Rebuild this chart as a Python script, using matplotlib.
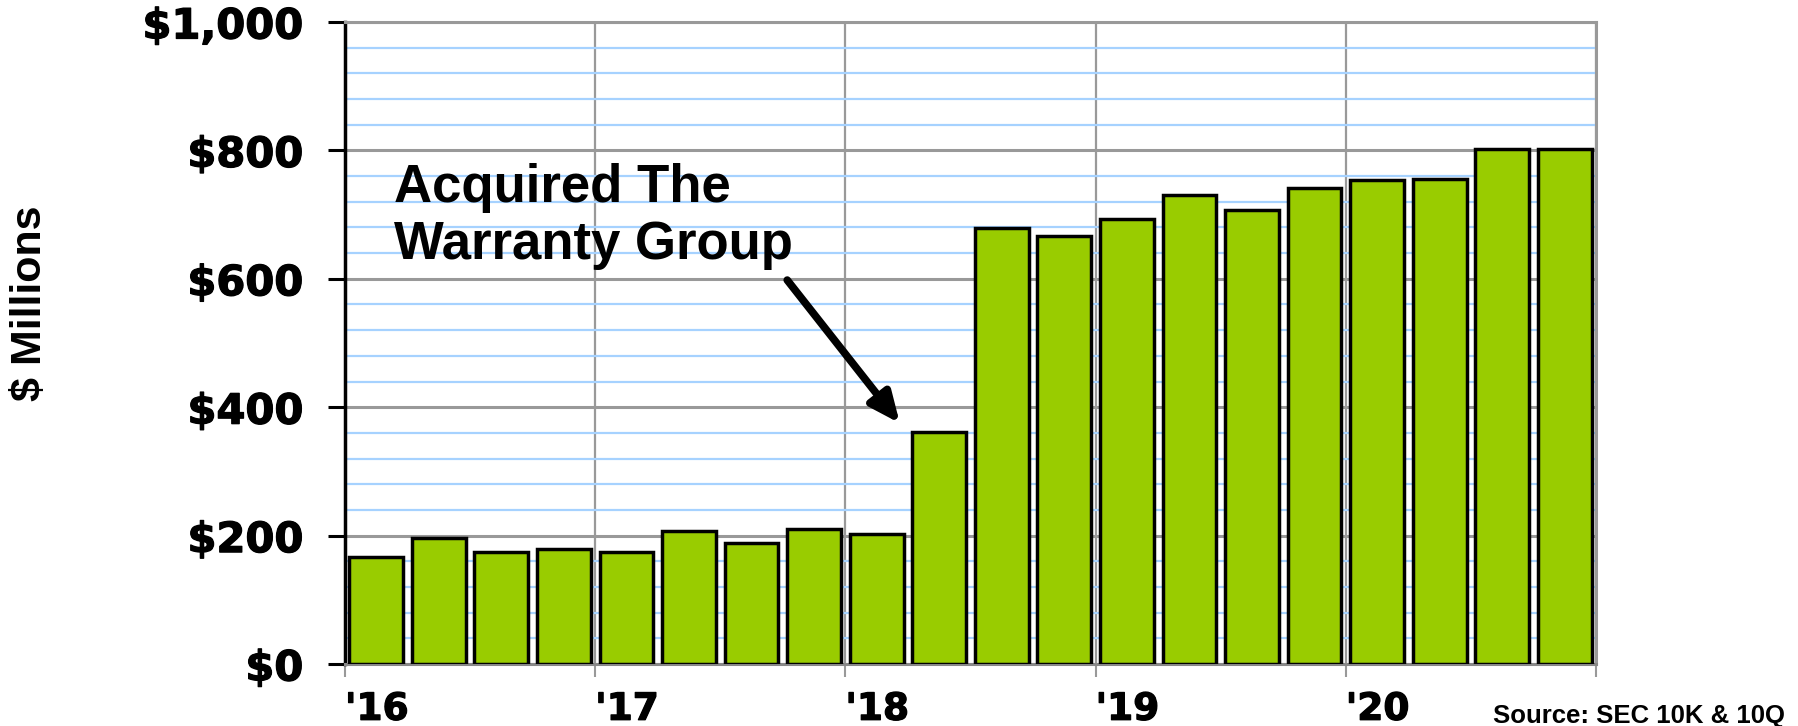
import matplotlib.pyplot as plt
import matplotlib.patheffects as pe
from matplotlib.ticker import MultipleLocator, FuncFormatter

# quarterly values, Q1 '16 .. Q4 '20 ($ millions)
quarters = ["1Q16", "2Q16", "3Q16", "4Q16", "1Q17", "2Q17", "3Q17", "4Q17",
            "1Q18", "2Q18", "3Q18", "4Q18", "1Q19", "2Q19", "3Q19", "4Q19",
            "1Q20", "2Q20", "3Q20", "4Q20"]
values = [166, 196, 175, 179, 175, 207, 188, 211,
          202, 362, 679, 666, 693, 730, 707, 741,
          754, 755, 802, 802]
year_labels = ["'16", "'17", "'18", "'19", "'20", ""]

plt.rcParams['font.family'] = ['Liberation Sans', 'DejaVu Sans']
plt.rcParams['font.weight'] = 'bold'

fig = plt.figure(figsize=(17.99, 7.26), dpi=100)
ax = fig.add_axes([345 / 1799, 62 / 726, 1251 / 1799, 642 / 726])

x = list(range(len(values)))
ax.bar(x, values, width=0.86, color='#99CC00', edgecolor='black',
       linewidth=2.5, zorder=3)

ax.set_xlim(-0.5, len(values) - 0.5)
ax.set_ylim(0, 1000)

# grid
ax.yaxis.set_major_locator(MultipleLocator(200))
ax.yaxis.set_minor_locator(MultipleLocator(40))
ax.grid(axis='y', which='minor', color='#A6D2FF', linewidth=1.6, zorder=0)
ax.grid(axis='y', which='major', color='#999999', linewidth=2.2, zorder=1)
year_pos = [i * 4 - 0.5 for i in range(len(year_labels))]
ax.set_xticks(year_pos)
ax.set_xticklabels(year_labels, ha='left', fontsize=27, fontweight='bold',
                   family='DejaVu Sans')
ax.grid(axis='x', color='#999999', linewidth=1.6, zorder=1)

ax.yaxis.set_major_formatter(FuncFormatter(lambda v, p: "${:,.0f}".format(v)))
for lab in ax.get_yticklabels():
    lab.set_fontsize(30)
    lab.set_fontweight('bold')
    lab.set_family('DejaVu Sans')
heavy = [pe.withStroke(linewidth=0.9, foreground='black')]
for lab in ax.get_yticklabels() + ax.get_xticklabels():
    lab.set_path_effects(heavy)
ax.tick_params(axis='y', which='major', length=12, width=2.2, color='black', pad=18)
ax.tick_params(axis='y', which='minor', length=0)
ax.tick_params(axis='x', length=9, width=1.5, color='#999999', pad=11)

for s in ['top', 'right']:
    ax.spines[s].set_color('#999999')
    ax.spines[s].set_linewidth(2.2)
ax.spines['left'].set_color('black')
ax.spines['left'].set_linewidth(2.5)
ax.spines['bottom'].set_color('#888888')
ax.spines['bottom'].set_linewidth(2.2)

ax.text(0.28, 613, "Acquired The\nWarranty Group", fontsize=38,
        fontweight='bold', ha='left', va='bottom', multialignment='left',
        zorder=5)
ax.annotate("", xy=(8.37, 375), xytext=(6.57, 598),
            arrowprops=dict(arrowstyle='-|>,head_length=0.9,head_width=0.4',
                            mutation_scale=20, color='black', lw=5.5,
                            shrinkA=0, shrinkB=0),
            zorder=5)

fig.text(30 / 1799, 1 - 303 / 726, "$ Millions", rotation=90, fontsize=31,
         fontweight='bold', ha='center', va='center')
fig.text(1785 / 1799, 1 - 723 / 726, "Source: SEC 10K & 10Q", fontsize=18.5,
         fontweight='bold', ha='right', va='baseline')

fig.savefig("out.png", dpi=100)
